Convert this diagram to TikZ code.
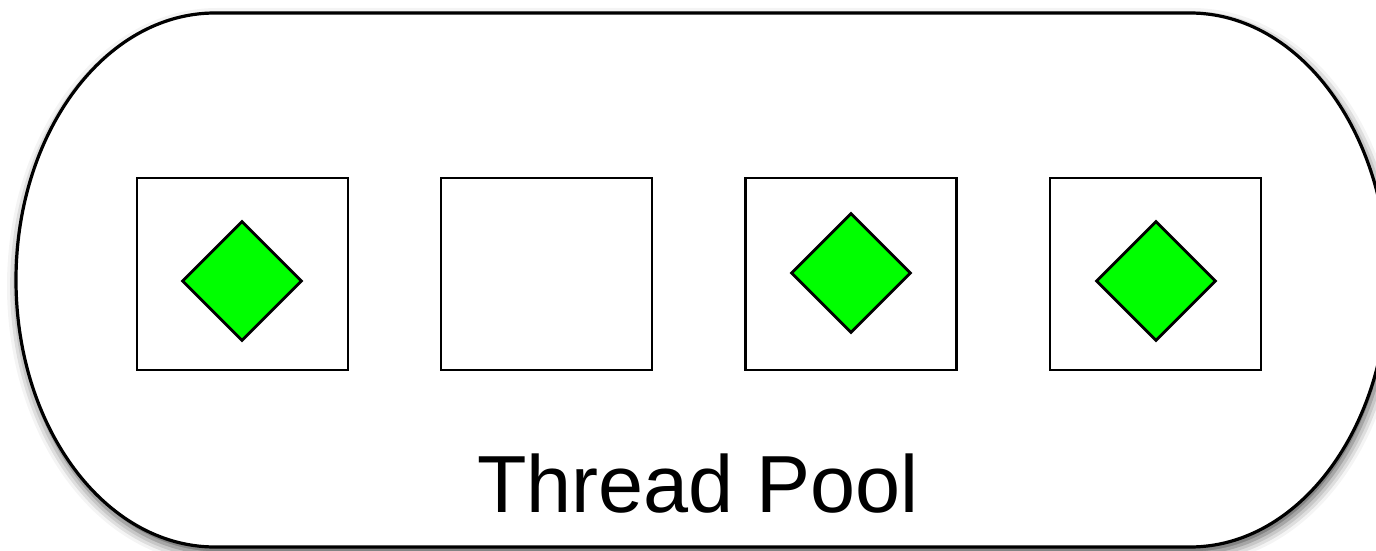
\documentclass[tikz,border=0pt]{standalone}
\usepackage{fontspec}
\setmainfont{Liberation Sans}
\usetikzlibrary{shapes.geometric,shadows.blur}
\definecolor{slotgreen}{HTML}{00FF00}
\tikzset{
  pool/.style={draw=black, line width=3.2pt, fill=white,
    blur shadow={shadow xshift=2pt, shadow yshift=-6pt, shadow blur radius=11pt, shadow opacity=70}},
  slot/.style={draw=black, line width=2.8pt, fill=white, rectangle,
    minimum width=211pt, minimum height=192pt, inner sep=0pt},
  task/.style={draw=black, line width=2.8pt, fill=slotgreen, diamond,
    minimum width=120pt, minimum height=120pt, inner sep=0pt},
  lbl/.style={font=\fontsize{81}{81}\selectfont, anchor=base, inner sep=0pt}
}
\begin{document}
\begin{tikzpicture}[x=1pt,y=1pt]
\useasboundingbox (0,0) rectangle (1376,550);
\path[pool] (215,537) -- (1190,537)
  arc[start angle=90,end angle=-90,x radius=198,y radius=267]
  -- (215,3)
  arc[start angle=270,end angle=90,x radius=199,y radius=267]
  -- cycle;
\node[slot] (s1) at (242.5,276) {};
\node[slot] (s2) at (546.5,276) {};
\node[slot] (s3) at (851,276) {};
\node[slot] (s4) at (1155.5,276) {};
\node[task] (t1) at (242,269) {};
\node[task] (t3) at (851,277) {};
\node[task] (t4) at (1156,269) {};
\node[lbl] (title) at (698,38) {Thread Pool};
\end{tikzpicture}
\end{document}
